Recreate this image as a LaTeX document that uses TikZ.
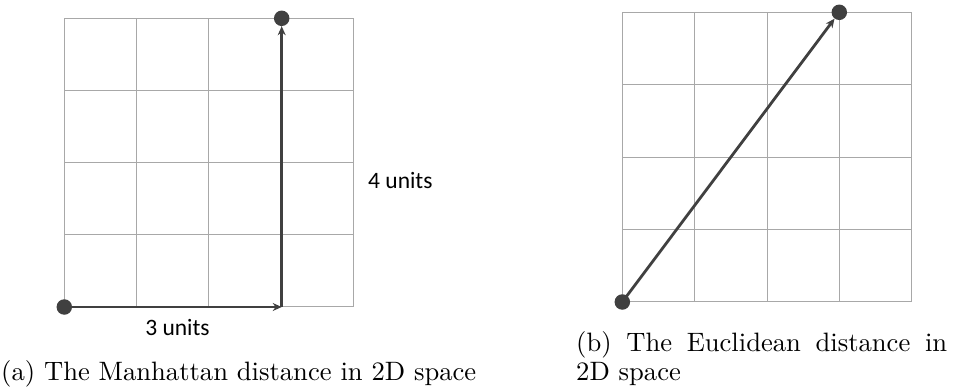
\documentclass[tikz,border=0pt]{standalone}
\usepackage{fontspec}
\newfontfamily\labfont{Carlito}
\newfontfamily\capfont{lmroman10-regular}[Extension=.otf]
\usetikzlibrary{arrows.meta}
\definecolor{gridgray}{HTML}{A8A8A8}
\definecolor{arrowgray}{HTML}{404040}
\begin{document}
\begin{tikzpicture}[x=1pt,y=-1pt,
  gridline/.style={draw=gridgray,line width=1pt},
  dot/.style={circle,fill=arrowgray,inner sep=0pt,minimum size=15.5pt},
  vec/.style={draw=arrowgray,line width=2.8pt,-{Stealth[length=9pt,width=8pt]}},
  unitlabel/.style={font=\labfont\fontsize{23.5}{27}\selectfont,inner sep=0pt},
  captext/.style={font=\capfont\fontsize{26.6}{29}\selectfont,inner sep=0pt}]
\useasboundingbox (0,0) rectangle (953,389);
% left grid
\foreach \i in {0,...,4} {
  \draw[gridline] ({64.3+\i*72.25},18.3) -- ({64.3+\i*72.25},307);
  \draw[gridline] (64.3,{18.3+\i*72.17}) -- (353.3,{18.3+\i*72.17});
}
% right grid
\foreach \i in {0,...,4} {
  \draw[gridline] ({622.3+\i*72.35},12.3) -- ({622.3+\i*72.35},302);
  \draw[gridline] (622.3,{12.3+\i*72.42}) -- (911.7,{12.3+\i*72.42});
}
% left arrows
\node[dot] (a0) at (64.3,307) {};
\node[dot] (a1) at (281.7,18.3) {};
\coordinate (ac) at (281.7,307);
\draw[vec] (a0.center) -- (ac);
\draw[vec] (ac) -- (a1);
\node[unitlabel,anchor=base] (l3) at (177.5,335) {3 units};
\node[unitlabel,anchor=base west] (l4) at (368,188) {4 units};
% right arrow
\node[dot] (b0) at (622.3,302) {};
\node[dot] (b1) at (839.3,12.3) {};
\draw[vec] (b0.center) -- (b1);
% captions
\node[captext,anchor=base west] (capa) at (1,380.5) {(a) The Manhattan distance in 2D space};
\node[captext,anchor=base west,text width=371pt,align=justify] (capb) at (576,351) {(b) The Euclidean distance in\linebreak 2D space};
\end{tikzpicture}
\end{document}
